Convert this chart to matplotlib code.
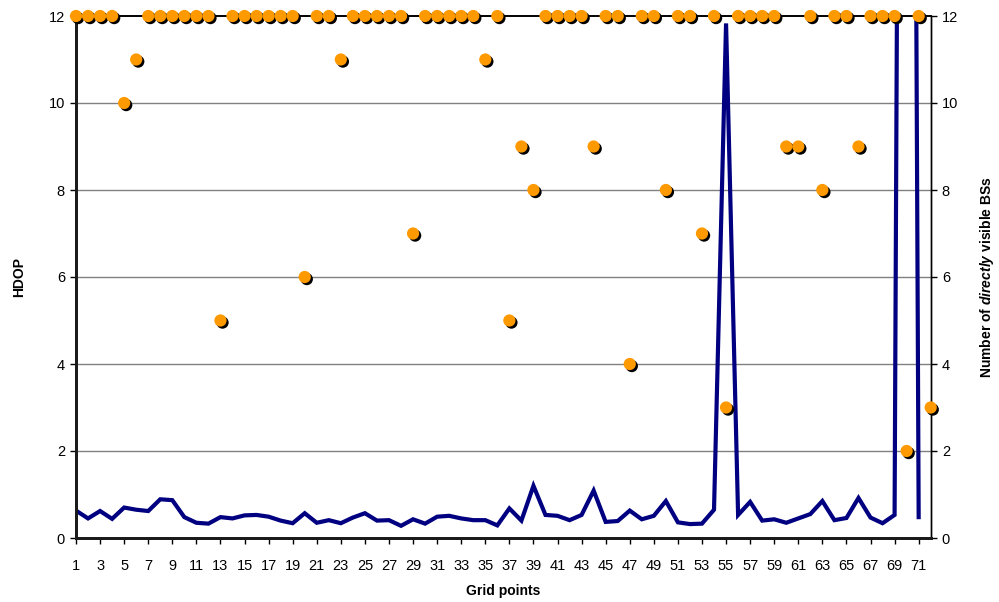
import matplotlib
matplotlib.use("Agg")
import matplotlib.pyplot as plt
import matplotlib.patheffects as pe
import numpy as np

plt.rcParams['font.family'] = ['Liberation Sans', 'DejaVu Sans']
plt.rcParams['mathtext.fontset'] = 'custom'
plt.rcParams['mathtext.bfit'] = 'Liberation Sans:italic:bold'
plt.rcParams['mathtext.rm'] = 'Liberation Sans:bold'

grid_points = list(range(1, 73))

# HDOP per grid point (1..71); point 70 is far off-scale
hdop = [0.63, 0.45, 0.62, 0.44, 0.70, 0.65, 0.62, 0.89, 0.87, 0.48,
        0.35, 0.33, 0.48, 0.45, 0.52, 0.53, 0.49, 0.40, 0.34, 0.57,
        0.35, 0.41, 0.34, 0.47, 0.57, 0.40, 0.41, 0.28, 0.43, 0.33,
        0.49, 0.51, 0.45, 0.41, 0.41, 0.29, 0.68, 0.40, 1.20, 0.53,
        0.51, 0.41, 0.53, 1.09, 0.37, 0.39, 0.63, 0.43, 0.51, 0.85,
        0.36, 0.32, 0.33, 0.65, 11.83, 0.53, 0.83, 0.40, 0.43, 0.35,
        0.45, 0.55, 0.85, 0.41, 0.46, 0.92, 0.47, 0.34, 0.53, 60.0,
        0.48]

visible_bs = [12, 12, 12, 12, 10, 11, 12, 12, 12, 12,
              12, 12, 5, 12, 12, 12, 12, 12, 12, 6,
              12, 12, 11, 12, 12, 12, 12, 12, 7, 12,
              12, 12, 12, 12, 11, 12, 5, 9, 8, 12,
              12, 12, 12, 9, 12, 12, 4, 12, 12, 8,
              12, 12, 7, 12, 3, 12, 12, 12, 12, 9,
              9, 12, 8, 12, 12, 9, 12, 12, 12, 2,
              12, 3]

y_ticks = [0, 2, 4, 6, 8, 10, 12]
x_ticks = list(range(1, 72, 2))

fig = plt.figure(figsize=(9.99, 6.02), dpi=100)
ax = fig.add_axes([76/999, 1-538/602, (930.7-76)/999, (538-16)/602])
ax2 = ax.twinx()

x_line = grid_points[:len(hdop)]
ax.plot(x_line, hdop, color='#000080', lw=3.0, solid_joinstyle='miter', zorder=2)

ax.set_xlim(1, 72)
ax.set_ylim(0, 12)
ax2.set_ylim(0, 12)
ax.set_yticks(y_ticks)
ax2.set_yticks(y_ticks)
ax.set_xticks(x_ticks)
ax.set_xticklabels([str(v) for v in x_ticks])

for g in y_ticks[1:-1]:
    ax.axhline(g, color='#808080', lw=1.0, zorder=0)

ax2.plot(grid_points, visible_bs, linestyle='none', marker='o', markersize=8.8,
         markerfacecolor='#FF9900', markeredgewidth=0, clip_on=False, zorder=5,
         path_effects=[pe.SimplePatchShadow(offset=(1.5, -1.5), shadow_rgbFace='black', alpha=1.0),
                       pe.Normal()])

for a in (ax, ax2):
    a.spines['left'].set_linewidth(2.0)
    a.spines['left'].set_color('#1a1a1a')
    a.spines['bottom'].set_linewidth(2.0)
    a.spines['bottom'].set_color('#1a1a1a')
    a.spines['right'].set_linewidth(1.0)
    a.spines['right'].set_color('black')
    a.spines['top'].set_linewidth(1.2)
    a.spines['top'].set_color('black')

ax.tick_params(axis='y', direction='out', length=4, width=1, labelsize=10.5, pad=4, colors='black')
ax.tick_params(axis='x', direction='out', length=4, width=1, labelsize=10.5, pad=11)
ax2.tick_params(axis='y', direction='out', length=4, width=1, labelsize=10.5, pad=4)

ax.set_xlabel('Grid points', fontsize=10, fontweight='bold', labelpad=8)
ax.set_ylabel('HDOP', fontsize=10, fontweight='bold', labelpad=16)
ax2.set_ylabel(r'Number of $\mathbfit{directly}$ visible BSs', fontsize=10,
               fontweight='bold', labelpad=14)

fig.savefig('out.png', dpi=100)
